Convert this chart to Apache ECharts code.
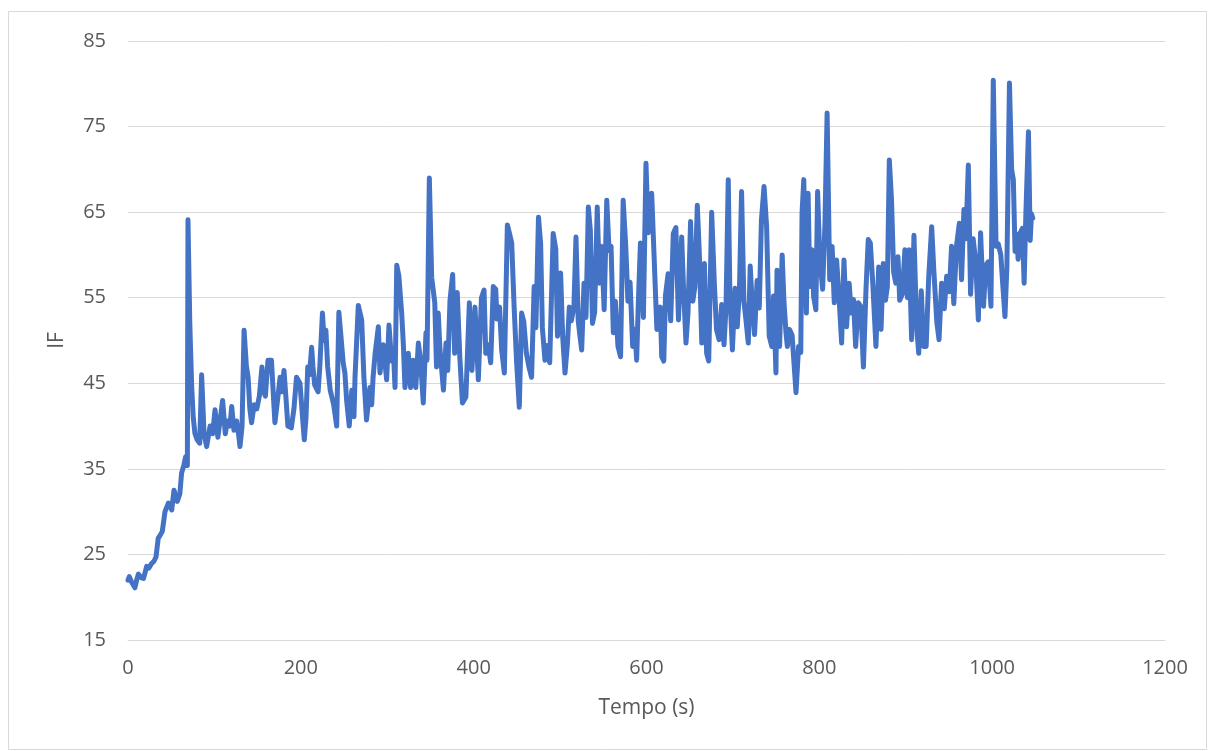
<!DOCTYPE html>
<html>
<head>
<meta charset="utf-8">
<title>IF vs Tempo</title>
<script src="https://cdn.jsdelivr.net/npm/echarts@6/dist/echarts.min.js"></script>
<style>
  html, body { margin: 0; padding: 0; background: #ffffff; }
  #chart { width: 1208px; height: 751px; }
</style>
</head>
<body>
<div id="chart"></div>
<script>
// Time stamps (s) and IF readings
const tempo = [
  0, 1.5, 4, 6, 8, 10, 12, 15, 18, 21.6, 24, 27, 30, 32.4, 35, 37, 39.7, 42.8, 46.7, 50.6,
  53.2, 57, 60, 62, 64.8, 66.7, 68.7, 69.4, 71.5, 73.7, 75.5, 77.5, 80, 83, 85.2, 88, 91, 95, 98, 100.7,
  104, 106.5, 109.5, 112.6, 115, 118, 120, 122.6, 125.7, 128, 129.6, 132, 134.3, 137, 139, 141, 143, 146, 149, 152,
  155, 157, 159, 162, 166, 168, 170, 173, 176, 178, 180.5, 183, 185, 189, 192, 195, 199, 202, 204, 206,
  208, 210, 212.5, 214, 216, 220, 222, 225, 227, 229, 231, 234, 238, 241.5, 244, 246, 249, 251, 253, 256,
  259, 261.5, 262.7, 266.5, 270.4, 273, 276, 280, 282, 283.6, 286, 289.7, 291.6, 295.4, 299.3, 302, 305, 307, 309, 311,
  313.5, 316.7, 318.7, 320.5, 324.4, 327, 330, 333, 336, 338.5, 341.7, 344.8, 346, 348.7, 351.4, 355, 357, 359, 361, 365,
  368, 370, 372.6, 375.7, 378, 381, 384, 387, 391, 395, 398, 401.5, 405.4, 409, 412, 414, 417, 419.7, 422.7, 425.5,
  427, 430, 432.4, 435.5, 439, 441.5, 444, 447, 449.7, 452.8, 455.5, 458, 461, 464, 467, 470, 472, 475, 477.5, 479.5,
  482.5, 485, 488, 492, 495, 497, 500.6, 503, 505.7, 508.5, 510.7, 513, 516, 518.4, 521, 523, 525, 527.7, 530, 532.7,
  535, 537.5, 540, 543, 545.5, 548, 551, 554, 556.7, 559, 561.6, 564, 567, 570, 573, 576, 578.5, 581, 584, 586.5,
  588.6, 590.5, 593, 596.4, 599.4, 602, 606, 608.5, 612, 616, 617.6, 620, 622, 625, 628, 631, 634, 637, 640.7, 643,
  645.7, 648, 651, 653.6, 656, 658.8, 661, 664, 667, 669.6, 672, 675.4, 678.5, 681, 684, 687, 689.7, 692, 694.6, 696.5,
  699.4, 702.5, 705, 707.5, 710, 712.7, 715, 717.8, 720, 722.6, 725, 728, 730.5, 733, 736, 739, 742, 745, 747, 749.8,
  751, 754, 757, 759, 761.4, 763, 765.5, 768.5, 771, 773, 776, 778.5, 780, 782, 785, 787, 789, 791.5, 793.4, 796,
  798, 800.6, 803.8, 806.5, 809, 812, 814.8, 817.3, 820, 823, 825.8, 828.5, 831.5, 834.5, 837, 839.5, 842, 845, 848, 851,
  854, 856.6, 859, 862, 865.5, 868.7, 871.4, 874, 876.5, 878.7, 881, 883.5, 886, 888.5, 891, 893, 896, 899, 902, 904,
  906.8, 909.5, 912.6, 915, 918, 920.6, 923.6, 926.6, 930, 932.6, 936, 938.5, 941.5, 944.6, 947.3, 950.5, 953, 955.6, 958.7, 962,
  964.6, 967.3, 969.6, 972.4, 975, 978, 981, 984, 986.6, 988, 990, 992.6, 995.5, 998.6, 1001.3, 1004.5, 1007, 1010, 1012, 1014.8,
  1017, 1020, 1022.5, 1024.5, 1026.5, 1028.6, 1030, 1032, 1035, 1037, 1039, 1042, 1044, 1045.5, 1047
];

const ifValues = [
  22.0, 22.4, 21.8, 21.6, 21.1, 22.0, 22.7, 22.3, 22.2, 23.6, 23.4, 23.9, 24.2, 24.7, 26.9, 27.2, 27.7, 30.0, 31.0, 30.2,
  32.5, 31.2, 32.1, 34.5, 35.5, 36.4, 35.4, 64.1, 52.0, 44.6, 41.0, 39.1, 38.4, 38.0, 46.0, 39.1, 37.6, 40.0, 39.1, 41.9,
  38.7, 40.6, 43.0, 39.1, 40.6, 40.0, 42.3, 39.5, 40.6, 39.0, 37.6, 40.0, 51.2, 47.0, 45.7, 42.0, 40.4, 42.5, 42.0, 43.5,
  46.9, 44.0, 43.5, 47.7, 47.7, 44.0, 40.4, 43.0, 45.7, 44.0, 46.5, 43.0, 40.0, 39.8, 42.0, 45.7, 45.0, 41.0, 38.4, 41.0,
  46.9, 46.0, 49.2, 47.0, 44.8, 44.0, 47.0, 53.2, 50.0, 51.2, 47.0, 44.2, 42.5, 40.0, 53.3, 51.0, 47.4, 46.2, 43.0, 40.0,
  44.2, 41.1, 45.7, 54.1, 52.4, 45.7, 40.7, 44.5, 42.5, 45.7, 48.5, 51.6, 46.2, 49.5, 45.4, 51.8, 47.6, 49.0, 44.5, 58.8,
  57.5, 53.2, 49.4, 44.5, 48.5, 44.5, 47.7, 44.5, 49.7, 47.7, 42.7, 50.9, 47.7, 69.0, 57.4, 54.4, 46.9, 53.2, 49.0, 44.2,
  49.7, 46.5, 54.7, 57.7, 48.5, 55.6, 48.0, 42.7, 43.4, 54.4, 46.5, 53.9, 45.4, 55.0, 55.9, 48.5, 49.5, 47.4, 56.3, 56.0,
  52.5, 53.9, 48.9, 46.2, 63.5, 62.5, 61.4, 53.5, 47.4, 42.2, 53.2, 52.2, 48.5, 46.9, 45.7, 56.3, 51.5, 64.4, 61.3, 51.5,
  47.7, 49.4, 47.4, 62.5, 60.7, 50.5, 57.9, 50.5, 46.2, 49.6, 53.9, 52.3, 53.9, 62.1, 52.3, 50.5, 48.9, 56.7, 52.7, 65.6,
  62.9, 52.0, 53.3, 65.6, 56.7, 61.0, 53.6, 66.4, 60.5, 61.0, 50.9, 54.6, 49.3, 48.1, 66.4, 61.0, 54.6, 56.8, 49.3, 51.3,
  47.7, 54.3, 61.4, 52.7, 70.7, 62.6, 67.2, 60.6, 51.3, 53.9, 48.1, 47.6, 55.3, 57.8, 52.3, 62.5, 63.2, 52.4, 62.1, 55.7,
  49.7, 53.2, 63.9, 54.6, 56.3, 65.8, 60.5, 49.7, 59.0, 48.5, 47.6, 65.0, 56.7, 51.3, 50.1, 54.2, 49.5, 53.8, 68.8, 55.5,
  48.9, 56.1, 51.6, 55.7, 67.4, 54.6, 52.5, 49.7, 58.7, 53.8, 50.7, 57.0, 53.8, 64.1, 68.0, 63.3, 50.5, 49.3, 55.2, 46.2,
  58.2, 49.3, 60.0, 54.7, 50.9, 49.3, 51.3, 50.6, 46.9, 43.9, 49.3, 48.6, 64.9, 68.8, 53.2, 67.2, 56.3, 60.6, 55.1, 53.6,
  67.4, 59.4, 56.0, 63.6, 76.6, 57.1, 61.0, 54.4, 59.4, 54.7, 49.7, 59.4, 51.6, 56.7, 53.2, 54.8, 49.3, 54.4, 54.0, 46.9,
  56.0, 61.8, 61.4, 56.4, 49.3, 58.6, 51.3, 59.0, 54.7, 56.3, 71.1, 66.5, 58.0, 56.7, 59.8, 54.7, 55.4, 60.6, 55.0, 60.6,
  50.1, 62.3, 51.7, 48.5, 55.8, 49.3, 49.3, 57.5, 63.3, 58.0, 52.1, 50.1, 56.7, 53.7, 57.5, 55.7, 61.0, 54.3, 61.0, 63.7,
  57.1, 65.3, 61.9, 70.5, 55.4, 61.9, 59.2, 52.4, 62.6, 62.5, 54.0, 58.8, 59.2, 54.0, 80.4, 61.0, 61.3, 60.0, 56.9, 52.8,
  58.5, 80.1, 70.0, 68.8, 60.4, 62.4, 59.5, 62.5, 63.1, 56.7, 64.8, 74.4, 61.7, 64.8, 64.3
];

// Axis ranges and tick steps
const xTicks = [0, 200, 400, 600, 800, 1000, 1200];
const yTicks = [15, 25, 35, 45, 55, 65, 75, 85];

const points = tempo.map((t, i) => [t, ifValues[i]]);

const textColor = '#595959';
const gridColor = '#d9d9d9';
const fontFamily = '"Open Sans", "Noto Sans", sans-serif';

const chart = echarts.init(document.getElementById('chart'), null, { renderer: 'canvas' });

chart.setOption({
  animation: false,
  backgroundColor: '#ffffff',
  graphic: [{
    type: 'rect',
    shape: { x: 8.5, y: 11.5, width: 1198, height: 738 },
    style: { fill: 'none', stroke: '#d9d9d9', lineWidth: 1 },
    silent: true,
    z: -1
  }],
  grid: { left: 128, right: 43, top: 41, bottom: 111, containLabel: false },
  xAxis: {
    type: 'value',
    min: xTicks[0],
    max: xTicks[xTicks.length - 1],
    interval: xTicks[1] - xTicks[0],
    name: 'Tempo (s)',
    nameLocation: 'middle',
    nameGap: 58,
    nameTextStyle: { color: textColor, fontSize: 21, fontFamily: fontFamily },
    axisLine: { show: true, lineStyle: { color: gridColor, width: 1 } },
    axisTick: { show: false },
    axisLabel: {
      color: textColor, fontSize: 20, fontFamily: fontFamily, margin: 18,
      formatter: (v) => String(v)
    },
    splitLine: { show: false }
  },
  yAxis: {
    type: 'value',
    min: yTicks[0],
    max: yTicks[yTicks.length - 1],
    interval: yTicks[1] - yTicks[0],
    name: 'IF',
    nameLocation: 'middle',
    nameGap: 60,
    nameRotate: 90,
    nameTextStyle: { color: textColor, fontSize: 21, fontFamily: fontFamily },
    axisLine: { show: false },
    axisTick: { show: false },
    axisLabel: {
      color: textColor, fontSize: 20, fontFamily: fontFamily, margin: 22,
      formatter: (v) => String(v)
    },
    splitLine: { show: true, lineStyle: { color: gridColor, width: 1 } }
  },
  series: [{
    type: 'line',
    data: points,
    showSymbol: false,
    smooth: false,
    lineStyle: { color: '#4472C4', width: 5, join: 'round', cap: 'round' },
    itemStyle: { color: '#4472C4' }
  }]
});
</script>
</body>
</html>
